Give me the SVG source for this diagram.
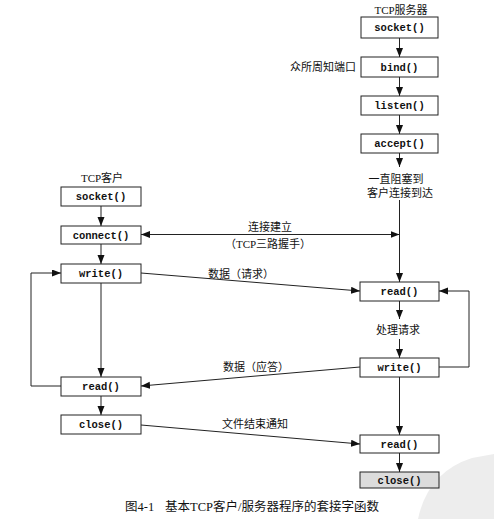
<svg xmlns="http://www.w3.org/2000/svg" width="494" height="519" viewBox="0 0 494 519">
<style>
.box{fill:#fff;stroke:#222;stroke-width:1}
.fn{font-family:"Liberation Mono",monospace;font-size:10.5px;font-weight:bold;fill:#111;text-anchor:middle}
.lb{font-family:"Liberation Serif","Noto Sans CJK SC",serif;font-size:11px;fill:#111}
.c{text-anchor:middle}
.ln{fill:none;stroke:#222;stroke-width:1}
</style>
<defs>
<marker id="ah" markerUnits="userSpaceOnUse" markerWidth="10" markerHeight="8" refX="9" refY="3.5" orient="auto-start-reverse">
<path d="M0,0 L9,3.5 L0,7 z" fill="#111"/>
</marker>
</defs>
<rect width="494" height="519" fill="#fff"/>
<path d="M418,519 Q428,472 472,458 L494,454 L494,519 z" fill="#ededed"/>

<g id="connectors">
<line class="ln" x1="399.5" y1="38" x2="399.5" y2="57" marker-end="url(#ah)"/>
<line class="ln" x1="399.5" y1="77" x2="399.5" y2="96" marker-end="url(#ah)"/>
<line class="ln" x1="399.5" y1="115" x2="399.5" y2="134" marker-end="url(#ah)"/>
<line class="ln" x1="399.5" y1="153" x2="399.5" y2="167" marker-end="url(#ah)"/>
<line class="ln" x1="399.5" y1="200" x2="399.5" y2="282" marker-end="url(#ah)"/>
<line class="ln" x1="399.5" y1="301" x2="399.5" y2="319" marker-end="url(#ah)"/>
<line class="ln" x1="399.5" y1="339" x2="399.5" y2="358" marker-end="url(#ah)"/>
<line class="ln" x1="399.5" y1="377" x2="399.5" y2="435" marker-end="url(#ah)"/>
<line class="ln" x1="399.5" y1="453" x2="399.5" y2="472" marker-end="url(#ah)"/>
<polyline class="ln" points="439,367 469,367 469,291 439,291" marker-end="url(#ah)"/>
<line class="ln" x1="101" y1="206" x2="101" y2="226" marker-end="url(#ah)"/>
<line class="ln" x1="101" y1="244" x2="101" y2="264" marker-end="url(#ah)"/>
<line class="ln" x1="101" y1="283" x2="101" y2="377" marker-end="url(#ah)"/>
<line class="ln" x1="101" y1="396" x2="101" y2="415" marker-end="url(#ah)"/>
<polyline class="ln" points="61,386 31,386 31,273 61,273" marker-end="url(#ah)"/>
<line class="ln" x1="141" y1="234.5" x2="399.5" y2="234.5" marker-start="url(#ah)" marker-end="url(#ah)"/>
<line class="ln" x1="141" y1="273" x2="360" y2="291" marker-end="url(#ah)"/>
<line class="ln" x1="360" y1="367" x2="141" y2="386" marker-end="url(#ah)"/>
<line class="ln" x1="141" y1="425" x2="360" y2="444" marker-end="url(#ah)"/>
</g>

<g id="server-title"><text class="lb c" x="401" y="14">TCP服务器</text></g>
<g id="s-socket"><rect class="box" x="361" y="17" width="77" height="21"/><text class="fn" x="399.5" y="31">socket()</text></g>
<g id="s-bind"><rect class="box" x="361" y="57" width="77" height="20"/><text class="fn" x="399.5" y="70.5">bind()</text></g>
<g id="s-listen"><rect class="box" x="361" y="96" width="77" height="19"/><text class="fn" x="399.5" y="109">listen()</text></g>
<g id="s-accept"><rect class="box" x="361" y="134" width="77" height="19"/><text class="fn" x="399.5" y="147">accept()</text></g>
<g id="s-read"><rect class="box" x="360" y="282" width="79" height="19"/><text class="fn" x="399.5" y="295">read()</text></g>
<g id="s-write"><rect class="box" x="360" y="358" width="79" height="19"/><text class="fn" x="399.5" y="371">write()</text></g>
<g id="s-read2"><rect class="box" x="360" y="435" width="79" height="18"/><text class="fn" x="399.5" y="448">read()</text></g>
<g id="s-close"><rect class="box" x="360" y="472" width="79" height="16" style="fill:#dcdcdc"/><text class="fn" x="399.5" y="484">close()</text></g>

<g id="client-title"><text class="lb c" x="102" y="182">TCP客户</text></g>
<g id="c-socket"><rect class="box" x="61" y="187" width="80" height="19"/><text class="fn" x="101" y="200">socket()</text></g>
<g id="c-connect"><rect class="box" x="61" y="226" width="80" height="18"/><text class="fn" x="101" y="239">connect()</text></g>
<g id="c-write"><rect class="box" x="61" y="264" width="80" height="19"/><text class="fn" x="101" y="277">write()</text></g>
<g id="c-read"><rect class="box" x="61" y="377" width="80" height="19"/><text class="fn" x="101" y="390">read()</text></g>
<g id="c-close"><rect class="box" x="61" y="415" width="80" height="19"/><text class="fn" x="101" y="428">close()</text></g>

<g id="labels">
<text class="lb" x="290" y="71">众所周知端口</text>
<text class="lb c" x="396" y="183">一直阻塞到</text>
<text class="lb c" x="400" y="197">客户连接到达</text>
<text class="lb c" x="270" y="231">连接建立</text>
<text class="lb c" x="268" y="248">（TCP三路握手）</text>
<text class="lb c" x="241" y="278">数据（请求）</text>
<text class="lb c" x="398" y="334">处理请求</text>
<text class="lb c" x="256" y="371">数据（应答）</text>
<text class="lb c" x="255" y="428">文件结束通知</text>
<text class="lb" x="125" y="511" style="font-size:12.5px">图4-1<tspan x="165">基本TCP客户/服务器程序的套接字函数</tspan></text>
</g>
</svg>
